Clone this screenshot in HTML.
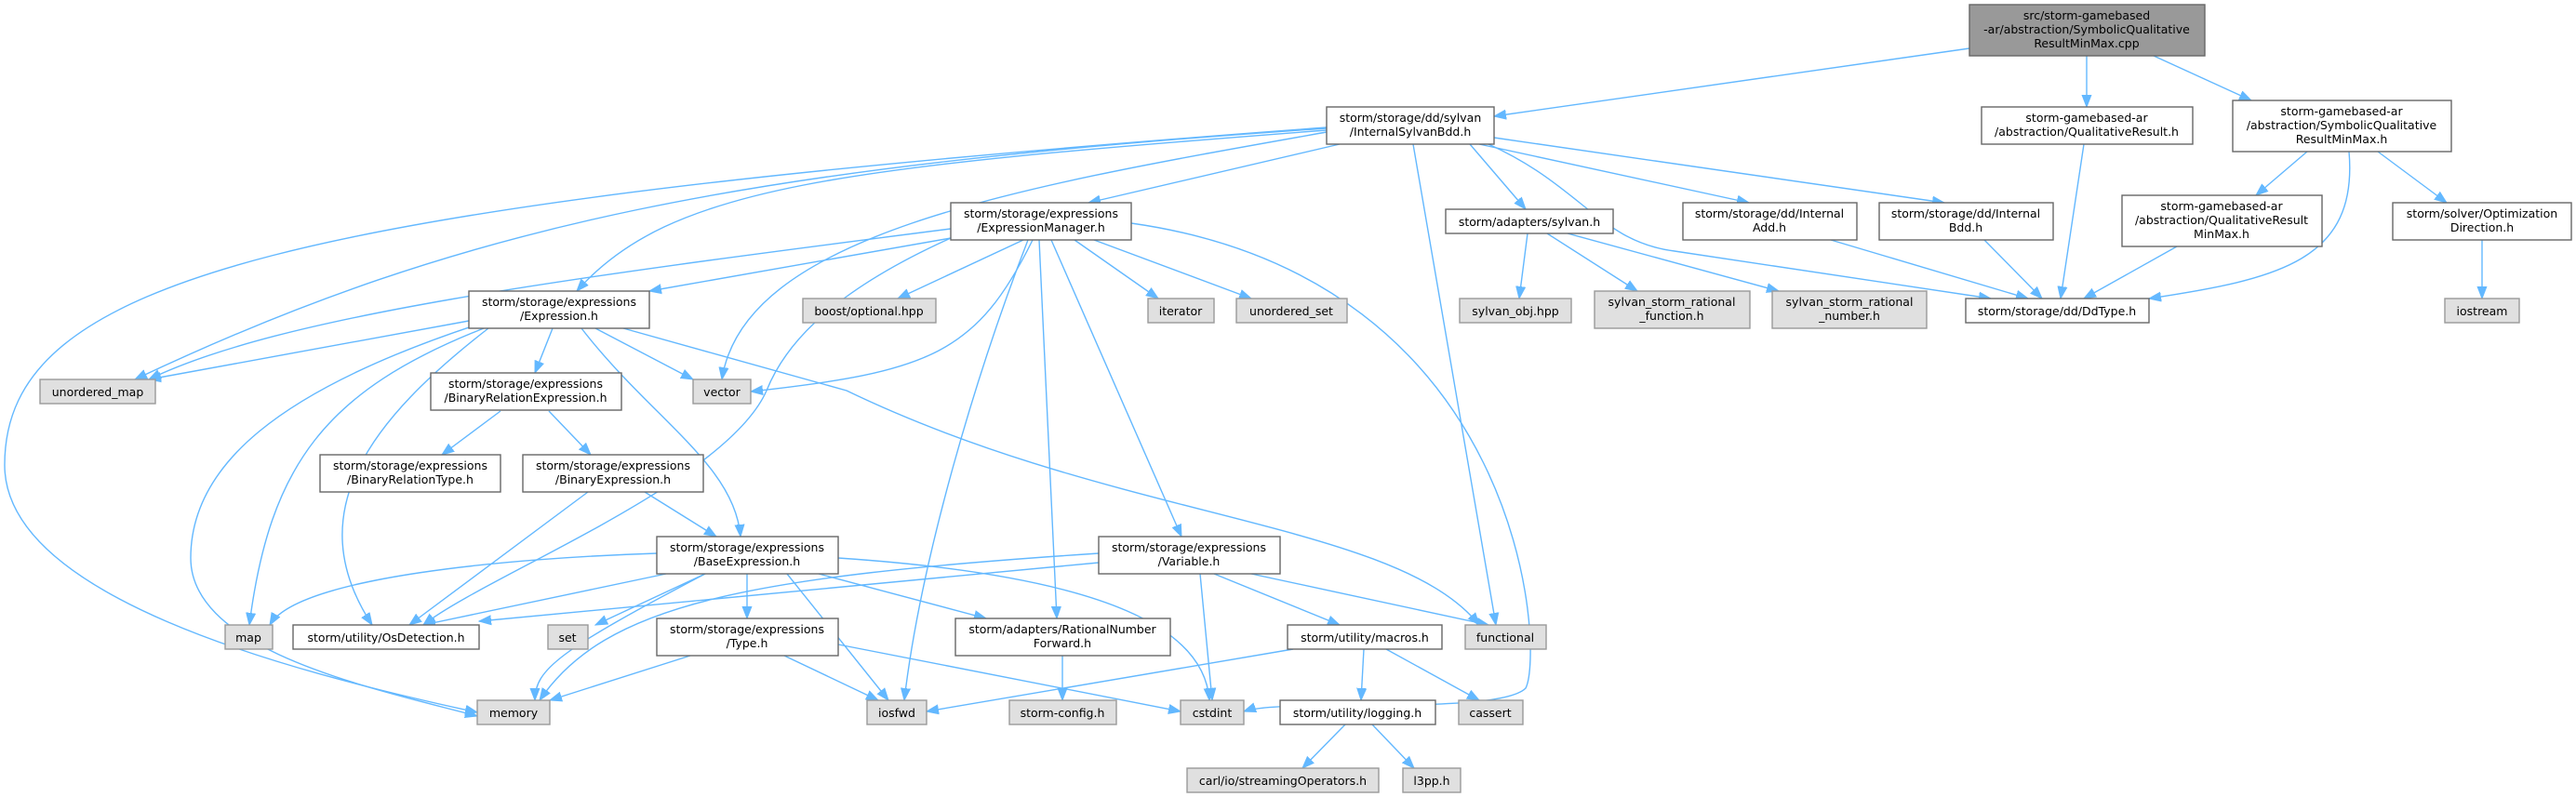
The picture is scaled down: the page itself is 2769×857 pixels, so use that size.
<!DOCTYPE html>
<html><head><meta charset="utf-8"><style>
html,body{margin:0;padding:0;background:#fff;}
svg{display:block}
text{font-family:"DejaVu Sans","Liberation Sans",sans-serif;font-size:12.5px;fill:#000;text-anchor:middle}
.e{fill:none;stroke:#63b8ff;stroke-width:1.4}
.w{fill:#fff;stroke:#666;stroke-width:1.4}
.g{fill:#e0e0e0;stroke:#999;stroke-width:1.4}
</style></head><body>
<svg width="2769" height="857" viewBox="0 0 2769 857" xmlns="http://www.w3.org/2000/svg">
<defs><marker id="a" markerUnits="userSpaceOnUse" markerWidth="14" markerHeight="12" refX="13" refY="6" orient="auto"><path d="M0,1 L13,6 L0,11 z" fill="#63b8ff" stroke="#63b8ff"/></marker></defs>
<g marker-end="url(#a)">
<path class="e" d="M2117,52 L1606,125"/>
<path class="e" d="M2243,60 L2243,115"/>
<path class="e" d="M2315,60 L2420,108"/>
<path class="e" d="M1440,155 L1170,218"/>
<path class="e" d="M1426,140 C900,180 720,200 620,313"/>
<path class="e" d="M1426,138 C800,180 500,240 145,408"/>
<path class="e" d="M1426,137 C300,220 5,300 5,500 C5,640 300,720 513,766"/>
<path class="e" d="M1426,142 C1100,200 800,250 776,408"/>
<path class="e" d="M1519,155 L1608,672"/>
<path class="e" d="M1580,155 L1640,225"/>
<path class="e" d="M1590,155 L1880,218"/>
<path class="e" d="M1606,148 L2090,218"/>
<path class="e" d="M1600,155 C1700,200 1720,260 1800,270 L2140,321"/>
<path class="e" d="M2240,155 L2215,321"/>
<path class="e" d="M2480,163 L2425,210"/>
<path class="e" d="M2556,163 L2630,218"/>
<path class="e" d="M2525,163 C2535,280 2450,300 2310,321"/>
<path class="e" d="M1642,251 L1633,321"/>
<path class="e" d="M1663,251 L1760,313"/>
<path class="e" d="M1685,251 L1912,313"/>
<path class="e" d="M1968,258 L2180,321"/>
<path class="e" d="M2133,258 L2195,321"/>
<path class="e" d="M2340,265 L2240,321"/>
<path class="e" d="M2668,258 L2668,321"/>
<path class="e" d="M1022,256 L698,313"/>
<path class="e" d="M1022,246 C600,300 300,340 160,408"/>
<path class="e" d="M1100,258 L965,321"/>
<path class="e" d="M1155,258 L1245,321"/>
<path class="e" d="M1176,258 L1345,321"/>
<path class="e" d="M1110,258 C1050,380 1000,400 807,421"/>
<path class="e" d="M1022,256 C880,320 840,380 824,420 C780,520 520,620 455,672"/>
<path class="e" d="M1105,258 C1050,400 990,600 972,753"/>
<path class="e" d="M1117,258 L1136,665"/>
<path class="e" d="M1130,258 L1270,577"/>
<path class="e" d="M1216,240 C1640,300 1660,700 1640,740 C1610,770 1380,750 1337,765"/>
<path class="e" d="M504,345 L160,408"/>
<path class="e" d="M520,353 C350,420 290,500 268,672"/>
<path class="e" d="M510,350 C300,420 205,500 205,600 C205,700 400,740 513,770"/>
<path class="e" d="M525,353 C400,450 320,550 400,672"/>
<path class="e" d="M594,353 L575,401"/>
<path class="e" d="M625,353 C700,450 790,500 796,577"/>
<path class="e" d="M640,353 L745,408"/>
<path class="e" d="M670,353 L910,420 C1200,560 1500,560 1590,672"/>
<path class="e" d="M538,442 L475,489"/>
<path class="e" d="M590,442 L635,489"/>
<path class="e" d="M693,529 L770,577"/>
<path class="e" d="M632,529 L440,672"/>
<path class="e" d="M706,595 C550,600 320,620 290,672"/>
<path class="e" d="M716,617 L455,672"/>
<path class="e" d="M758,617 C600,700 575,720 575,753"/>
<path class="e" d="M758,617 L640,672"/>
<path class="e" d="M803,617 L803,665"/>
<path class="e" d="M846,617 L955,753"/>
<path class="e" d="M880,617 L1060,665"/>
<path class="e" d="M901,600 C1200,620 1295,680 1300,753"/>
<path class="e" d="M1181,605 L515,668"/>
<path class="e" d="M1181,595 C800,620 650,650 580,753"/>
<path class="e" d="M1290,617 L1303,753"/>
<path class="e" d="M1305,617 L1440,672"/>
<path class="e" d="M1345,617 L1600,672"/>
<path class="e" d="M742,705 L591,753"/>
<path class="e" d="M843,705 L944,753"/>
<path class="e" d="M901,693 L1269,765"/>
<path class="e" d="M1142,705 L1142,753"/>
<path class="e" d="M1390,698 L996,765"/>
<path class="e" d="M1466,698 L1463,753"/>
<path class="e" d="M1490,698 L1590,753"/>
<path class="e" d="M1446,779 L1400,826"/>
<path class="e" d="M1475,779 L1520,826"/>
</g>
<!-- nodes -->
<rect x="2117" y="5" width="253" height="55" fill="#999" stroke="#666" stroke-width="1.4"/>
<text x="2243" y="21">src/storm-gamebased</text><text x="2243" y="36">-ar/abstraction/SymbolicQualitative</text><text x="2243" y="51">ResultMinMax.cpp</text>

<rect class="w" x="1426" y="115" width="180" height="40"/><text x="1516" y="131">storm/storage/dd/sylvan</text><text x="1516" y="146">/InternalSylvanBdd.h</text>
<rect class="w" x="2130" y="115" width="227" height="40"/><text x="2243" y="131">storm-gamebased-ar</text><text x="2243" y="146">/abstraction/QualitativeResult.h</text>
<rect class="w" x="2400" y="108" width="235" height="55"/><text x="2517" y="124">storm-gamebased-ar</text><text x="2517" y="139">/abstraction/SymbolicQualitative</text><text x="2517" y="154">ResultMinMax.h</text>

<rect class="w" x="1022" y="218" width="194" height="40"/><text x="1119" y="234">storm/storage/expressions</text><text x="1119" y="249">/ExpressionManager.h</text>
<rect class="w" x="1554" y="225" width="180" height="26"/><text x="1644" y="243">storm/adapters/sylvan.h</text>
<rect class="w" x="1809" y="218" width="187" height="40"/><text x="1902" y="234">storm/storage/dd/Internal</text><text x="1902" y="249">Add.h</text>
<rect class="w" x="2020" y="218" width="187" height="40"/><text x="2113" y="234">storm/storage/dd/Internal</text><text x="2113" y="249">Bdd.h</text>
<rect class="w" x="2281" y="210" width="215" height="55"/><text x="2388" y="226">storm-gamebased-ar</text><text x="2388" y="241">/abstraction/QualitativeResult</text><text x="2388" y="256">MinMax.h</text>
<rect class="w" x="2572" y="218" width="192" height="40"/><text x="2668" y="234">storm/solver/Optimization</text><text x="2668" y="249">Direction.h</text>

<rect class="w" x="504" y="313" width="194" height="40"/><text x="601" y="329">storm/storage/expressions</text><text x="601" y="344">/Expression.h</text>
<rect class="g" x="863" y="321" width="143" height="26"/><text x="934" y="339">boost/optional.hpp</text>
<rect class="g" x="1234" y="321" width="71" height="26"/><text x="1269" y="339">iterator</text>
<rect class="g" x="1329" y="321" width="119" height="26"/><text x="1388" y="339">unordered_set</text>
<rect class="g" x="1569" y="321" width="120" height="26"/><text x="1629" y="339">sylvan_obj.hpp</text>
<rect class="g" x="1714" y="313" width="167" height="40"/><text x="1797" y="329">sylvan_storm_rational</text><text x="1797" y="344">_function.h</text>
<rect class="g" x="1905" y="313" width="166" height="40"/><text x="1988" y="329">sylvan_storm_rational</text><text x="1988" y="344">_number.h</text>
<rect class="w" x="2113" y="321" width="197" height="26"/><text x="2211" y="339">storm/storage/dd/DdType.h</text>
<rect class="g" x="2628" y="321" width="80" height="26"/><text x="2668" y="339">iostream</text>

<rect class="g" x="43" y="408" width="124" height="26"/><text x="105" y="426">unordered_map</text>
<rect class="w" x="463" y="401" width="205" height="40"/><text x="565" y="417">storm/storage/expressions</text><text x="565" y="432">/BinaryRelationExpression.h</text>
<rect class="g" x="745" y="408" width="62" height="26"/><text x="776" y="426">vector</text>

<rect class="w" x="344" y="489" width="194" height="40"/><text x="441" y="505">storm/storage/expressions</text><text x="441" y="520">/BinaryRelationType.h</text>
<rect class="w" x="562" y="489" width="194" height="40"/><text x="659" y="505">storm/storage/expressions</text><text x="659" y="520">/BinaryExpression.h</text>

<rect class="w" x="706" y="577" width="195" height="40"/><text x="803" y="593">storm/storage/expressions</text><text x="803" y="608">/BaseExpression.h</text>
<rect class="w" x="1181" y="577" width="195" height="40"/><text x="1278" y="593">storm/storage/expressions</text><text x="1278" y="608">/Variable.h</text>

<rect class="g" x="242" y="672" width="51" height="26"/><text x="267" y="690">map</text>
<rect class="w" x="315" y="672" width="200" height="26"/><text x="415" y="690">storm/utility/OsDetection.h</text>
<rect class="g" x="589" y="672" width="43" height="26"/><text x="610" y="690">set</text>
<rect class="w" x="706" y="665" width="195" height="40"/><text x="803" y="681">storm/storage/expressions</text><text x="803" y="696">/Type.h</text>
<rect class="w" x="1027" y="665" width="231" height="40"/><text x="1142" y="681">storm/adapters/RationalNumber</text><text x="1142" y="696">Forward.h</text>
<rect class="w" x="1384" y="672" width="166" height="26"/><text x="1467" y="690">storm/utility/macros.h</text>
<rect class="g" x="1575" y="672" width="87" height="26"/><text x="1618" y="690">functional</text>

<rect class="g" x="513" y="753" width="78" height="26"/><text x="552" y="771">memory</text>
<rect class="g" x="932" y="753" width="64" height="26"/><text x="964" y="771">iosfwd</text>
<rect class="g" x="1085" y="753" width="115" height="26"/><text x="1142" y="771">storm-config.h</text>
<rect class="g" x="1269" y="753" width="68" height="26"/><text x="1303" y="771">cstdint</text>
<rect class="w" x="1376" y="753" width="167" height="26"/><text x="1459" y="771">storm/utility/logging.h</text>
<rect class="g" x="1568" y="753" width="69" height="26"/><text x="1602" y="771">cassert</text>

<rect class="g" x="1276" y="826" width="206" height="26"/><text x="1379" y="844">carl/io/streamingOperators.h</text>
<rect class="g" x="1508" y="826" width="62" height="26"/><text x="1539" y="844">l3pp.h</text>
</svg>
</body></html>
